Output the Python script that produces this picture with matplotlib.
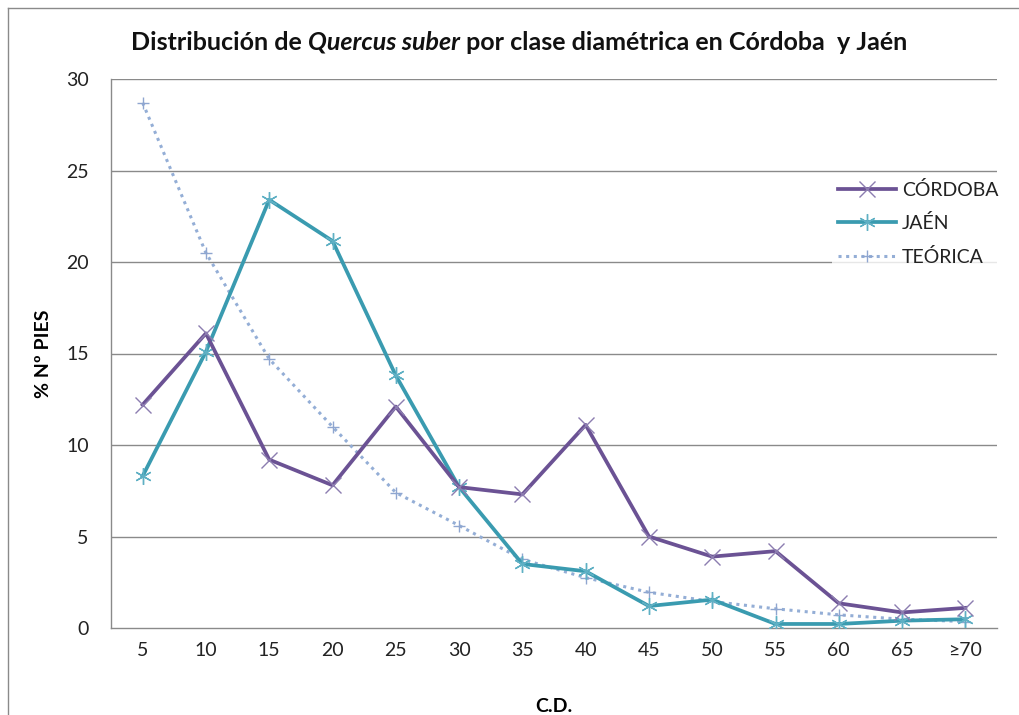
import matplotlib
matplotlib.use("Agg")
import matplotlib.pyplot as plt
from matplotlib.lines import Line2D

plt.rcParams['font.family'] = ['Lato', 'DejaVu Sans']

categories = ['5', '10', '15', '20', '25', '30', '35', '40', '45', '50', '55', '60', '65', '≥70']
cordoba = [12.2, 16.1, 9.2, 7.8, 12.1, 7.7, 7.3, 11.1, 5.0, 3.9, 4.2, 1.35, 0.85, 1.1]
jaen = [8.3, 15.1, 23.4, 21.15, 13.8, 7.7, 3.5, 3.1, 1.2, 1.55, 0.22, 0.22, 0.4, 0.48]
teorica = [28.7, 20.5, 14.7, 11.0, 7.4, 5.6, 3.75, 2.75, 1.95, 1.45, 1.05, 0.72, 0.48, 0.35]
yticks = [0, 5, 10, 15, 20, 25, 30]

W, H = 1020, 715
fig = plt.figure(figsize=(W / 100, H / 100), dpi=100)
ax = fig.add_axes([111 / W, 1 - 628 / H, (997 - 111) / W, (628 - 79) / H])

x = list(range(len(categories)))
grid_c = '#8a8a8a'
for v in yticks[1:]:
    ax.axhline(v, color=grid_c, lw=1.0, zorder=0)

ax.plot(x, teorica, color='#94AED6', lw=2.2, ls=(0, (1, 1.5)), marker='+',
        ms=9, mew=1.0, mec='#8FA6D0', label='TEÓRICA', zorder=2)
ax.plot(x, jaen, color='#3A9BB0', lw=2.7, marker=(6, 2, 0), ms=12, mew=1.0,
        mec='#5FB0C4', label='JAÉN', zorder=3)
ax.plot(x, cordoba, color='#6B5294', lw=2.7, marker='x', ms=11, mew=1.0,
        mec='#8C7DB0', label='CÓRDOBA', zorder=4)

ax.set_xlim(-0.5, len(categories) - 0.5)
ax.set_ylim(0, 30)
ax.set_xticks(x)
ax.set_xticklabels(categories)
ax.set_yticks(yticks)
ax.tick_params(axis='both', length=0, labelsize=14, colors='#222222')
ax.tick_params(axis='x', pad=10)
ax.tick_params(axis='y', pad=16)
for s in ['top', 'right']:
    ax.spines[s].set_visible(False)
for s in ['left', 'bottom']:
    ax.spines[s].set_color(grid_c)
    ax.spines[s].set_linewidth(1.0)

ax.set_ylabel('% Nº PIES', fontsize=14, fontweight='bold', labelpad=10)
ax.set_xlabel('C.D.', fontsize=14, fontweight='bold', labelpad=28)

handles, labels = ax.get_legend_handles_labels()
order = [2, 1, 0]
leg = ax.legend([handles[i] for i in order], [labels[i] for i in order],
                loc='upper left', bbox_to_anchor=(822 / W, 1 - 165 / H),
                bbox_transform=fig.transFigure, frameon=True, fontsize=14,
                handlelength=3.0, handletextpad=0.3, labelspacing=0.8,
                borderpad=0.3, fancybox=False)
leg.get_frame().set_facecolor('white')
leg.get_frame().set_edgecolor('white')
leg.get_frame().set_linewidth(0)
for t in leg.get_texts():
    t.set_color('#222222')

# outer chart frame (left and top edges visible)
fig.add_artist(Line2D([8 / W, 8 / W], [0, 1 - 8 / H], transform=fig.transFigure,
                      color='#8a8a8a', lw=1.0))
fig.add_artist(Line2D([8 / W, 1], [1 - 8 / H, 1 - 8 / H], transform=fig.transFigure,
                      color='#8a8a8a', lw=1.0))

# title with italic species name
parts = [('Distribución de ', 'normal'), ('Quercus suber', 'italic'),
         (' por clase diamétrica en Córdoba  y Jaén', 'normal')]
ty = 1 - 42 / H
texts = []
for s, st in parts:
    texts.append(fig.text(0, ty, s, fontsize=18, fontweight='bold', style=st,
                          va='center', ha='left', color='#111111'))
fig.canvas.draw()
r = fig.canvas.get_renderer()
widths = [t.get_window_extent(r).width for t in texts]
total = sum(widths)
cx = 519
x0 = cx - total / 2
for t, w in zip(texts, widths):
    t.set_x(x0 / W)
    x0 += w

fig.savefig('out.png', dpi=100, facecolor='white')
